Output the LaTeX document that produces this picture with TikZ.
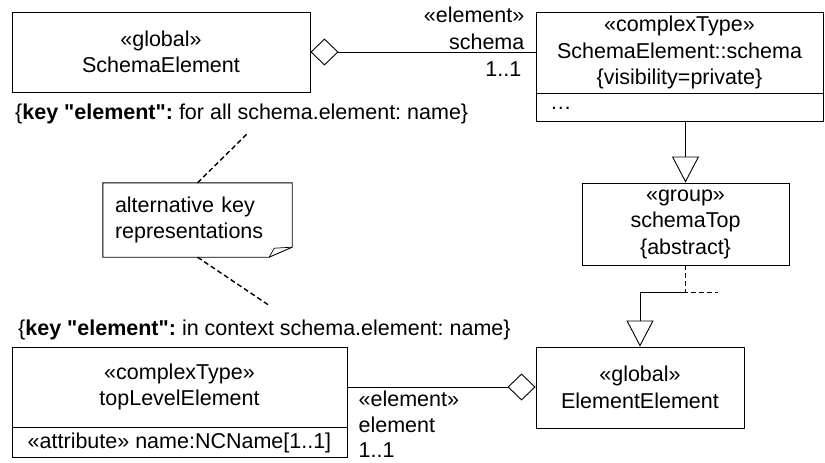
\documentclass[tikz,border=0pt]{standalone}
\usepackage{fontspec}
\setmainfont{Liberation Sans}
\usetikzlibrary{arrows.meta,positioning,calc}
\frenchspacing

\begin{document}
\begin{tikzpicture}[x=1pt,y=-1pt,
    every node/.style={font=\fontsize{21.5}{26.5}\selectfont, inner sep=0pt},
    classbox/.style={draw, line width=0.9pt, align=center, minimum height=80pt},
    compart/.style={draw, line width=0.9pt, minimum height=28pt},
    assoc/.style={line width=0.9pt, -{Diamond[open,length=28pt,width=27pt]}},
    generalize/.style={line width=0.9pt, -{Triangle[open,length=26pt,width=27pt]}},
    anchorline/.style={line width=1.4pt, dash pattern=on 5pt off 3pt},
    rolelabel/.style={align=left, font=\fontsize{21.5}{25.5}\selectfont},
  ]
  \useasboundingbox (0,0) rectangle (825,463);

  % classes
  \node[classbox, minimum width=298pt] (schemaElem) at (161,52) {«global»\\SchemaElement};
  \node[classbox, minimum width=287pt, minimum height=81pt] (schemaType) at (679.5,52.5)
    {«complexType»\\SchemaElement::schema\\\{visibility=private\}};
  \node[compart, minimum width=287pt, anchor=north, inner xsep=14pt, text width=259pt, align=left]
    (schemaTypeAttr) at (schemaType.south) {…};
  \node[classbox, minimum width=207pt, minimum height=82pt] (schemaTop) at (685.5,224)
    {«group»\\schemaTop\\\{abstract\}};
  \node[classbox, minimum width=208pt, minimum height=81pt] (elemElem) at (640,387.5)
    {«global»\\ElementElement};
  \node[classbox, minimum width=335pt] (topLevel) at (179.5,387) {«complexType»\\topLevelElement};
  \node[compart, minimum width=335pt, minimum height=30pt, anchor=north] (topLevelAttr)
    at (topLevel.south) {«attribute» name:NCName[1..1]};

  % key constraints and note
  \node[anchor=west] (keyAll) at (15,114)
    {\{\textbf{key \textquotedbl element\textquotedbl:} for all schema.element: name\}};
  \node[anchor=west] (keyCtx) at (18,330)
    {\{\textbf{key \textquotedbl element\textquotedbl:} in context schema.element: name\}};
  \node[align=left, minimum width=189pt, minimum height=74pt, inner xsep=12pt, text width=165pt]
    (note) at (197.5,220) {alternative key\\representations};
  \draw[line width=0.9pt] (note.north west) -- (note.north east) -- ([yshift=10pt]note.south east)
    -- ([xshift=-23pt]note.south east) -- (note.south west) -- cycle;
  \draw[line width=0.7pt] ([yshift=10pt]note.south east) -- ([xshift=-18pt,yshift=9pt]note.south east)
    -- ([xshift=-23pt]note.south east);
  \coordinate (keyAllEnd) at (248,133);
  \coordinate (keyCtxEnd) at (270,306);
  \draw[anchorline] (note.north) -- (keyAllEnd);
  \draw[anchorline] (note.south) -- (keyCtxEnd);

  % associations
  \coordinate (schemaEnd) at (schemaElem.east -| schemaType.west);
  \draw[assoc] (schemaEnd) -- (schemaElem.east);
  \node[align=right, above left=2.5pt and 11pt of schemaEnd] (schemaRole) {«element»\\schema};
  \node[below left=10pt and 14pt of schemaEnd] (schemaMult) {1..1};
  \draw[assoc] (topLevel.east) -- (topLevel.east -| elemElem.west);
  \node[rolelabel, below right=4pt and 11pt of topLevel.east] (elemRole) {«element»\\element\\1..1};

  % generalizations
  \draw[generalize] (schemaTypeAttr.south -| schemaTop.north) -- (schemaTop.north);
  \coordinate (groupJoint) at ($(schemaTop.south)+(0,27)$);
  \coordinate (groupStub) at ($(groupJoint)+(32,0)$);
  \draw[anchorline] (schemaTop.south) -- (groupJoint) -- (groupStub);
  \draw[generalize] (groupJoint) -| (elemElem.north);
\end{tikzpicture}
\end{document}
